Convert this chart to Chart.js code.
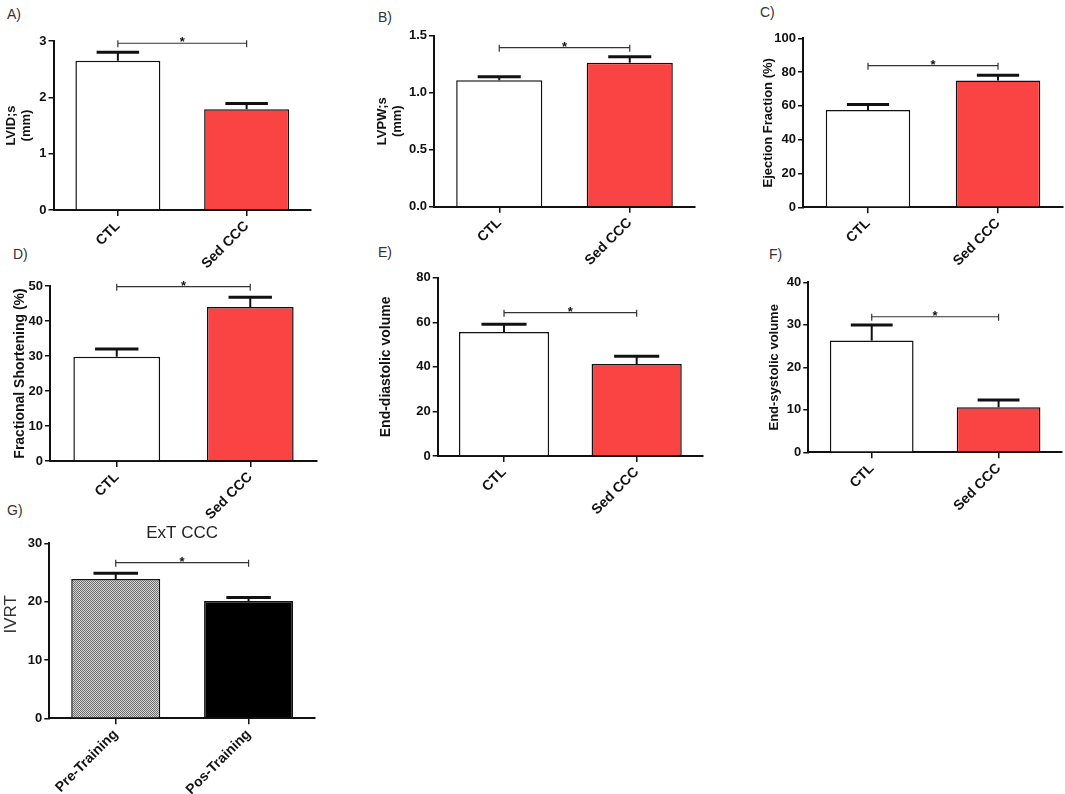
<!DOCTYPE html>
<html>
<head>
<meta charset="utf-8">
<script src="https://cdn.jsdelivr.net/npm/chart.js@4.4.1/dist/chart.umd.min.js"></script>
<style>
    body { margin: 0; background: #fff; width: 1065px; height: 794px; overflow: hidden; position: relative;
           font-family: "Liberation Sans", Arial, sans-serif; }
    canvas { position: absolute; }
    .lbl { position: absolute; font-size: 14px; line-height: 14px; color: #333; }
</style>
</head>
<body>
<div class="lbl" style="left:7px;top:7px">A)</div>
<div class="lbl" style="left:378px;top:10px">B)</div>
<div class="lbl" style="left:760px;top:5px">C)</div>
<div class="lbl" style="left:13px;top:247px">D)</div>
<div class="lbl" style="left:378px;top:245px">E)</div>
<div class="lbl" style="left:769px;top:247px">F)</div>
<div class="lbl" style="left:7px;top:503px">G)</div>

<script>
// categories
var groupsCCC = ['CTL', 'Sed CCC'];
var groupsTraining = ['Pre-Training', 'Pos-Training'];

// means and SEM
var lvidsMean = [2.65, 1.79];
var lvidsSem  = [0.15, 0.10];
var lvpwsMean = [1.11, 1.263];
var lvpwsSem  = [0.031, 0.053];
var efMean    = [57.6, 75.1];
var efSem     = [3.3, 3.0];
var fsMean    = [29.8, 44.0];
var fsSem     = [2.2, 2.8];
var edvMean   = [55.6, 41.3];
var edvSem    = [3.5, 3.4];
var esvMean   = [26.3, 10.6];
var esvSem    = [3.65, 1.7];
var ivrtMean  = [23.9, 20.1];
var ivrtSem   = [1.0, 0.6];

// y tick labels
var lvidsTicks = ['0', '1', '2', '3'];
var lvpwsTicks = ['0.0', '0.5', '1.0', '1.5'];
var efTicks    = ['0', '20', '40', '60', '80', '100'];
var fsTicks    = ['0', '10', '20', '30', '40', '50'];
var edvTicks   = ['0', '20', '40', '60', '80'];
var esvTicks   = ['0', '10', '20', '30', '40'];
var ivrtTicks  = ['0', '10', '20', '30'];

// height of the "*" bracket, panels A..G
var bracketLevels = [2.96, 1.395, 83.8, 49.8, 64.3, 31.9, 26.7];

var INK = '#111';
var RED = '#fa4343';
Chart.defaults.font.family = '"Liberation Sans", Arial, sans-serif';
Chart.defaults.color = INK;

function dotPattern() {
    var c = document.createElement('canvas');
    c.width = 2; c.height = 2;
    var g = c.getContext('2d');
    g.fillStyle = '#dadada';
    g.fillRect(0, 0, 2, 2);
    g.fillStyle = '#6a6a6a';
    g.fillRect(0, 0, 1, 1);
    g.fillRect(1, 1, 1, 1);
    return g.createPattern(c, 'repeat');
}

var errorBarPlugin = {
    id: 'errorBars',
    afterDatasetsDraw: function (chart, args, opts) {
        var ctx = chart.ctx;
        var ys = chart.scales.y, xs = chart.scales.x;
        var values = chart.data.datasets[0].data;
        ctx.save();
        ctx.strokeStyle = INK;
        chart.getDatasetMeta(0).data.forEach(function (bar, i) {
            var top = ys.getPixelForValue(values[i] + opts.sem[i]);
            var half = bar.width / 4;
            ctx.lineWidth = 2;
            ctx.beginPath();
            ctx.moveTo(bar.x, bar.y);
            ctx.lineTo(bar.x, top);
            ctx.stroke();
            ctx.lineWidth = 3;
            ctx.beginPath();
            ctx.moveTo(bar.x - half, top);
            ctx.lineTo(bar.x + half, top);
            ctx.stroke();
        });
        // significance bracket
        var by = ys.getPixelForValue(opts.bracket);
        var x1 = xs.getPixelForValue(0), x2 = xs.getPixelForValue(1);
        ctx.lineWidth = 1.2;
        ctx.strokeStyle = '#333';
        ctx.beginPath();
        ctx.moveTo(x1, by); ctx.lineTo(x2, by);
        ctx.moveTo(x1, by - 3); ctx.lineTo(x1, by + 4);
        ctx.moveTo(x2, by - 3); ctx.lineTo(x2, by + 4);
        ctx.stroke();
        ctx.fillStyle = INK;
        ctx.font = 'bold 13px "Liberation Sans", Arial, sans-serif';
        ctx.textAlign = 'center';
        ctx.fillText('*', (x1 + x2) / 2, by + 3);
        ctx.restore();
    }
};

function makePanel(p) {
    var titleFont = p.titleFont || { size: 13, weight: 'bold', lineHeight: 1.15 };
    var half = titleFont.size * titleFont.lineHeight / 2;
    var left = Math.round(p.tx - half);
    var head = p.title ? 20.4 : 12;
    var top = Math.round(p.top - head);
    var padTop = p.title ? 0 : p.top - top;
    var yWidth = p.ax - left;
    var width = Math.ceil(p.end - left + 2);
    var height = Math.ceil(p.zero - top + 88);
    var xHeight = height - (p.zero - top);

    var canvas = document.createElement('canvas');
    canvas.width = width;
    canvas.height = height;
    canvas.style.left = left + 'px';
    canvas.style.top = top + 'px';
    document.body.appendChild(canvas);

    var tickVals = p.ticks.map(parseFloat);

    new Chart(canvas, {
        type: 'bar',
        data: {
            labels: p.labels,
            datasets: [{
                data: p.values,
                backgroundColor: p.colors,
                borderColor: INK,
                borderWidth: 1.5,
                borderSkipped: 'bottom',
                categoryPercentage: 1,
                barPercentage: p.barPct
            }]
        },
        options: {
            responsive: false,
            animation: false,
            layout: { padding: { top: padTop, right: width - (p.end - left), left: 0, bottom: 0 } },
            plugins: {
                legend: { display: false },
                tooltip: { enabled: false },
                title: p.title ? {
                    display: true, text: p.title, fullSize: false, padding: 0,
                    font: { size: 17, weight: 'normal', lineHeight: 1.2 }, color: '#222'
                } : { display: false },
                errorBars: { sem: p.sem, bracket: p.bracket }
            },
            scales: {
                x: {
                    grid: { offset: false, drawOnChartArea: false, tickLength: 6, color: INK, lineWidth: 1.5 },
                    border: { display: true, color: INK, width: 2 },
                    ticks: { maxRotation: 45, minRotation: 45, padding: 2, color: INK,
                             font: { size: 14, weight: 'bold' } },
                    afterFit: function (s) { s.height = xHeight; }
                },
                y: {
                    min: tickVals[0],
                    max: tickVals[tickVals.length - 1],
                    grid: { drawOnChartArea: false, tickLength: 5, color: INK, lineWidth: 1.5 },
                    border: { display: true, color: INK, width: 2 },
                    ticks: {
                        padding: 2, color: INK, font: { size: 13, weight: 'bold' },
                        callback: function (v) {
                            var i = tickVals.indexOf(v);
                            return i < 0 ? '' : p.ticks[i];
                        }
                    },
                    afterBuildTicks: function (s) {
                        s.ticks = tickVals.map(function (v) { return { value: v }; });
                    },
                    title: {
                        display: true, text: p.yTitle, color: p.titleColor || INK,
                        font: titleFont, padding: { top: 0, bottom: 0 }
                    },
                    afterFit: function (s) { s.width = yWidth; }
                }
            }
        },
        plugins: [errorBarPlugin]
    });
}

var plain = ['#ffffff', RED];
var bigTitle = { size: 14, weight: 'bold', lineHeight: 1.15 };

makePanel({ ax: 53.5, top: 41, zero: 210, end: 311, tx: 11, barPct: 0.66,
    labels: groupsCCC, values: lvidsMean, sem: lvidsSem, ticks: lvidsTicks,
    bracket: bracketLevels[0], colors: plain, yTitle: ['LVID;s', '(mm)'] });
makePanel({ ax: 434, top: 35.7, zero: 206.7, end: 695, tx: 382, barPct: 0.66,
    labels: groupsCCC, values: lvpwsMean, sem: lvpwsSem, ticks: lvpwsTicks,
    bracket: bracketLevels[1], colors: plain, yTitle: ['LVPW;s', '(mm)'] });
makePanel({ ax: 803, top: 38.3, zero: 207.3, end: 1063, tx: 768, barPct: 0.65,
    labels: groupsCCC, values: efMean, sem: efSem, ticks: efTicks,
    bracket: bracketLevels[2], colors: plain, yTitle: 'Ejection Fraction (%)' });
makePanel({ ax: 50, top: 286, zero: 461, end: 317, tx: 20, barPct: 0.65,
    labels: groupsCCC, values: fsMean, sem: fsSem, ticks: fsTicks,
    bracket: bracketLevels[3], colors: plain, yTitle: 'Fractional Shortening (%)', titleFont: bigTitle });
makePanel({ ax: 437.7, top: 277.7, zero: 456, end: 703, tx: 386, barPct: 0.68,
    labels: groupsCCC, values: edvMean, sem: edvSem, ticks: edvTicks,
    bracket: bracketLevels[4], colors: plain, yTitle: 'End-diastolic volume', titleFont: bigTitle });
makePanel({ ax: 808.3, top: 282.3, zero: 452.3, end: 1062, tx: 774, barPct: 0.66,
    labels: groupsCCC, values: esvMean, sem: esvSem, ticks: esvTicks,
    bracket: bracketLevels[5], colors: plain, yTitle: 'End-systolic volume' });
// IVRT title sits above the middle of the axis in the reference, so it is padded at its start
makePanel({ ax: 49.3, top: 543.3, zero: 718.3, end: 315, tx: 11, barPct: 0.67,
    labels: groupsTraining, values: ivrtMean, sem: ivrtSem, ticks: ivrtTicks,
    bracket: bracketLevels[6], colors: [dotPattern(), '#000000'], yTitle: '       IVRT',
    titleColor: '#333', titleFont: { size: 17, weight: 'normal', lineHeight: 1.0 }, title: 'ExT CCC' });
</script>
</body>
</html>
